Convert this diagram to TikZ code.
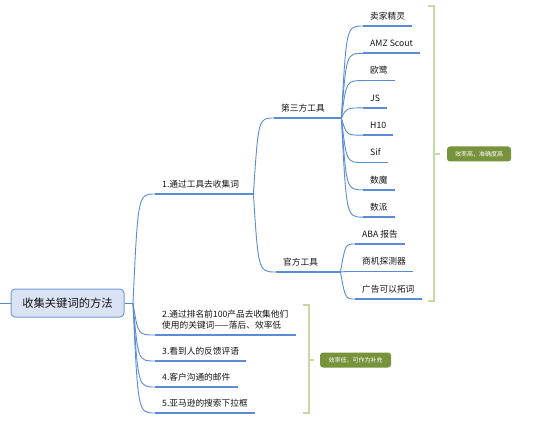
\documentclass[tikz,border=0pt]{standalone}
\usepackage{fontspec}
\setmainfont{Noto Sans CJK SC}
\usepackage{xcolor}
\usetikzlibrary{positioning,calc}
\definecolor{mapblue}{HTML}{5A8BD6}
\definecolor{rootfill}{HTML}{DAE3F3}
\definecolor{rootline}{HTML}{6E9AD6}
\definecolor{bracegreen}{HTML}{C5D9A2}
\definecolor{tagolive}{HTML}{77933C}
\definecolor{textgrey}{HTML}{141414}

\begin{document}
\begin{tikzpicture}[
    x=1pt, y=-1pt,
    rootbox/.style={rounded corners=4pt, line width=1pt, draw=rootline, fill=rootfill, text=textgrey, minimum width=113pt, minimum height=28pt, inner sep=0pt, font=\fontsize{11.3pt}{13pt}\selectfont},
    topic/.style={anchor=south west, inner xsep=7pt, inner ysep=5pt, text depth=1.5pt, text=textgrey, font=\fontsize{8.7pt}{11pt}\selectfont, align=left},
    branchnode/.style={topic, text width=#1},
    underline/.style={line width=1.7pt, draw=mapblue},
    link/.style={line width=0.9pt, draw=mapblue, to path={.. controls ($(\tikztostart |- \tikztotarget)+(5,0)$) .. (\tikztotarget)}},
    brace/.style={line width=2.4pt, draw=bracegreen},
    tagbox/.style={rounded corners=3pt, fill=tagolive, text=white, font=\fontsize{6pt}{7pt}\selectfont, inner sep=0pt, minimum height=15pt}
]
\useasboundingbox (0,0) rectangle (551,422);
\node[rootbox] (root) at (67.5,303) {收集关键词的方法};
\coordinate (in) at (0,303);
\coordinate (hub) at (133,303);
\node[branchnode=84pt] (b1) at (155,194) {1.通过工具去收集词};
\node[branchnode=53pt] (c1) at (274,118) {第三方工具};
\node[branchnode=50pt] (c2) at (276,272) {官方工具};
\node[topic] (l1) at (363,26) {卖家精灵};
\node[topic] (l2) at (363,53.3) {AMZ Scout};
\node[topic] (l3) at (363,80.6) {欧鹭};
\node[topic] (l4) at (363,107.9) {JS};
\node[topic] (l5) at (363,135.2) {H10};
\node[topic] (l6) at (363,162.5) {Sif};
\node[topic] (l7) at (363,189.8) {数魔};
\node[topic] (l8) at (363,217.1) {数派};
\node[topic] (o1) at (355,244) {ABA 报告};
\node[topic] (o2) at (355,271.5) {商机探测器};
\node[topic] (o3) at (355,299) {广告可以拓词};
\node[topic] (b2) at (155,335) {2.通过排名前100产品去收集他们\\使用的关键词——落后、效率低};
\node[topic] (b3) at (155,361) {3.看到人的反馈评语};
\node[topic] (b4) at (155,387) {4.客户沟通的邮件};
\node[topic] (b5) at (155,413) {5.亚马逊的搜索下拉框};
\node[tagbox, minimum width=64pt] (tag1) at (479,154) {效率高，准确度高};
\node[tagbox, minimum width=71pt] (tag2) at (355.5,360) {效率低，可作为补充};
\draw[link] (in) -- (root.west);
\draw[link] (root.east) -- (hub);
\draw[link] (hub) to (b1.south west);
\draw[link] (hub) to (b2.south west);
\draw[link] (hub) to (b3.south west);
\draw[link] (hub) to (b4.south west);
\draw[link] (hub) to (b5.south west);
\draw[link] (b1.south east) to (c1.south west);
\draw[link] (b1.south east) to (c2.south west);
\draw[link] (c1.south east) to (l1.south west);
\draw[link] (c1.south east) to (l2.south west);
\draw[link] (c1.south east) to (l3.south west);
\draw[link] (c1.south east) to (l4.south west);
\draw[link] (c1.south east) to (l5.south west);
\draw[link] (c1.south east) to (l6.south west);
\draw[link] (c1.south east) to (l7.south west);
\draw[link] (c1.south east) to (l8.south west);
\draw[link] (c2.south east) to (o1.south west);
\draw[link] (c2.south east) to (o2.south west);
\draw[link] (c2.south east) to (o3.south west);
\draw[underline] (b1.south west) -- (b1.south east);
\draw[underline] (c1.south west) -- (c1.south east);
\draw[underline] (c2.south west) -- (c2.south east);
\draw[underline] (l1.south west) -- (l1.south east);
\draw[underline] (l2.south west) -- (l2.south east);
\draw[underline] (l3.south west) -- (l3.south east);
\draw[underline] (l4.south west) -- (l4.south east);
\draw[underline] (l5.south west) -- (l5.south east);
\draw[underline] (l6.south west) -- (l6.south east);
\draw[underline] (l7.south west) -- (l7.south east);
\draw[underline] (l8.south west) -- (l8.south east);
\draw[underline] (o1.south west) -- (o1.south east);
\draw[underline] (o2.south west) -- (o2.south east);
\draw[underline] (o3.south west) -- (o3.south east);
\draw[underline] (b2.south west) -- (b2.south east);
\draw[underline] (b3.south west) -- (b3.south east);
\draw[underline] (b4.south west) -- (b4.south east);
\draw[underline] (b5.south west) -- (b5.south east);
\draw[brace] (428,6) -- (434,6) -- (434,301) -- (428,301);
\coordinate (braceA) at (434,154);
\draw[brace, shorten >=7pt] (braceA) -- (tag1.west);
\draw[brace] (303,305) -- (309,305) -- (309,413) -- (303,413);
\coordinate (braceB) at (309,360);
\draw[brace, shorten >=6pt] (braceB) -- (tag2.west);
\end{tikzpicture}
\end{document}
